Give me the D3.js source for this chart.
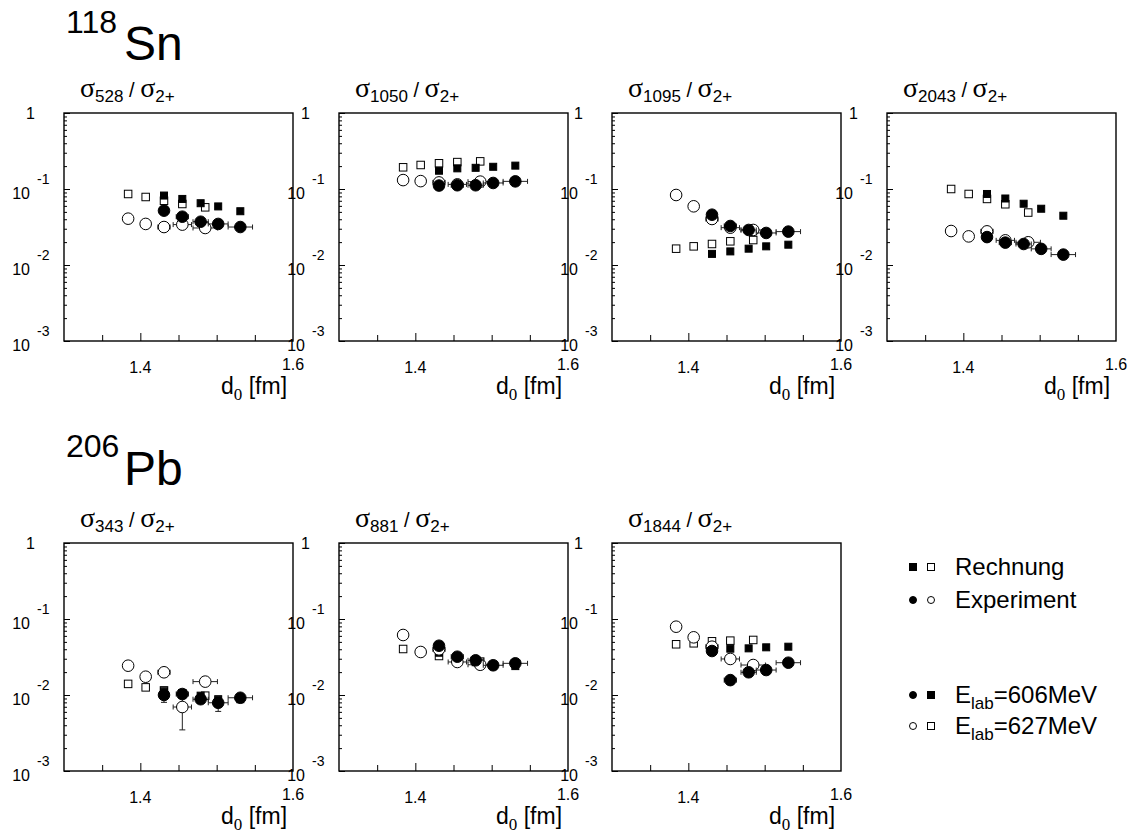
<!DOCTYPE html>
<html>
<head>
<meta charset="utf-8">
<script src="https://cdn.jsdelivr.net/npm/d3@7"></script>
<style>
  body { margin: 0; background: #fff; }
  text { font-family: "Liberation Sans", Arial, sans-serif; fill: #000; }
</style>
</head>
<body>
<div id="chart"></div>
<script>
// d0 positions of the two beam energies
const d606 = [1.431, 1.455, 1.479, 1.502, 1.531];
const d627 = [1.384, 1.407, 1.431, 1.455, 1.485];
// horizontal error on d0 for the experiment points
const dErr606 = [0.004, 0.008, 0.010, 0.013, 0.016];
const dErr627 = [0, 0, 0.008, 0.012, 0.016];

// panels: nucleus row, transition energy
const nuclei = [{mass: "118", sym: "Sn"}, {mass: "206", sym: "Pb"}];
const panelRow = [0, 0, 0, 0, 1, 1, 1];
const panelCol = [0, 1, 2, 3, 0, 1, 2];
const transitions = ["528", "1050", "1095", "2043", "343", "881", "1844"];

// Rechnung (calculation), 606 MeV (filled squares) and 627 MeV (open squares)
const calc606 = [
  [0.082, 0.074, 0.065, 0.059, 0.051],
  [0.174, 0.187, 0.190, 0.196, 0.203],
  [0.0140, 0.0151, 0.0164, 0.0176, 0.0185],
  [0.086, 0.075, 0.064, 0.055, 0.0445],
  [0.0112, 0.0106, 0.0098, 0.0088, 0.0088],
  [0.036, 0.030, 0.027, 0.025, 0.024],
  [0.0398, 0.0407, 0.0411, 0.0424, 0.0432]
];
const calc627 = [
  [0.086, 0.0785, 0.070, 0.0635, 0.0574],
  [0.193, 0.207, 0.218, 0.226, 0.231],
  [0.0164, 0.0176, 0.0189, 0.0205, 0.0213],
  [0.100, 0.086, 0.074, 0.063, 0.049],
  [0.0140, 0.0126, 0.0115, 0.0105, 0.0098],
  [0.0403, 0.0371, 0.0326, 0.0295, 0.0275],
  [0.0465, 0.0479, 0.0509, 0.0519, 0.0530]
];
// Experiment, 606 MeV (filled circles) and 627 MeV (open circles)
const exp606 = [
  [0.0519, 0.0432, 0.0371, 0.0347, 0.0316],
  [0.111, 0.112, 0.112, 0.120, 0.126],
  [0.0459, 0.0326, 0.0289, 0.0264, 0.0275],
  [0.0233, 0.0197, 0.0189, 0.0163, 0.0137],
  [0.0100, 0.0103, 0.0088, 0.0079, 0.0092],
  [0.0445, 0.0319, 0.0286, 0.0246, 0.0261],
  [0.0379, 0.0157, 0.0199, 0.0213, 0.0266]
];
const exp627 = [
  [0.0407, 0.0347, 0.0316, 0.0340, 0.0307],
  [0.131, 0.127, 0.122, 0.115, 0.125],
  [0.0834, 0.0592, 0.0403, 0.0310, 0.0289],
  [0.0280, 0.0238, 0.0277, 0.0211, 0.0199],
  [0.0243, 0.0174, 0.0199, 0.00695, 0.0150],
  [0.0616, 0.0368, 0.0399, 0.0272, 0.0250],
  [0.0792, 0.0574, 0.0432, 0.0298, 0.0248]
];
// relative vertical errors (only visible for 206Pb 343)
const yErr606 = [null, null, null, null, [0.2, 0.05, 0.12, 0.23, 0.06], null, null];
const yErr627 = [null, null, null, null, [0.1, 0.05, 0.05, 0.5, 0.1], null, null];

const yTickLabels = [1, 0.1, 0.01, 0.001];

// layout
const W = 1133, H = 835;
const lefts = [64, 339, 612, 887];
const tops = [113, 543];
const pw = 229, ph = 228;

const svg = d3.select("#chart")
  .append("svg")
  .attr("width", W)
  .attr("height", H);

// nucleus titles
const supBase = [33, 457], symBase = [60, 485];
nuclei.forEach(function(n, i) {
  svg.append("text").attr("x", 66).attr("y", supBase[i])
    .style("font-size", "32px").text(n.mass);
  svg.append("text").attr("x", 124).attr("y", symBase[i])
    .style("font-size", "48px").text(n.sym);
});

const x = d3.scaleLinear().domain([1.3, 1.6]).range([0, pw]);
const y = d3.scaleLog().domain([0.001, 1]).range([ph, 0]);

const minorY = [];
[0.001, 0.01, 0.1].forEach(function(dec) {
  for (let k = 2; k <= 9; k++) minorY.push(dec * k);
});

transitions.forEach(function(tr, p) {
  const g = svg.append("g")
    .attr("transform", `translate(${lefts[panelCol[p]]},${tops[panelRow[p]]})`);

  // subtitle sigma_E / sigma_2+
  const st = g.append("text").attr("x", 16).attr("y", -16);
  st.append("tspan").style("font-family", "'Liberation Serif', serif").style("font-size", "28px").text("σ");
  st.append("tspan").attr("dy", 5).style("font-size", "17px").text(tr);
  st.append("tspan").attr("dy", -5).style("font-size", "20px").text(" / ");
  st.append("tspan").style("font-family", "'Liberation Serif', serif").style("font-size", "28px").text("σ");
  st.append("tspan").attr("dy", 5).style("font-size", "17px").text("2+");

  // x ticks (inward)
  g.append("g")
    .attr("transform", `translate(0,${ph})`)
    .call(d3.axisBottom(x).tickValues([1.35, 1.45, 1.5, 1.55]).tickSize(-6).tickFormat(""))
    .call(a => a.select(".domain").remove());
  g.append("g")
    .attr("transform", `translate(0,${ph})`)
    .call(d3.axisBottom(x).tickValues([1.4]).tickSize(-8).tickFormat(""))
    .call(a => a.select(".domain").remove());

  // y ticks (inward)
  g.append("g")
    .call(d3.axisLeft(y).tickValues(minorY).tickSize(-3).tickFormat(""))
    .call(a => a.select(".domain").remove());
  g.append("g")
    .call(d3.axisLeft(y).tickValues(yTickLabels).tickSize(-6).tickFormat(""))
    .call(a => a.select(".domain").remove());
  g.selectAll(".tick line").attr("stroke", "#000").attr("stroke-width", 1);

  // frame
  g.append("rect").attr("width", pw).attr("height", ph)
    .attr("fill", "none").attr("stroke", "#000").attr("stroke-width", 1.4);

  // y labels
  yTickLabels.forEach(function(v) {
    const yy = y(v);
    if (v === 1) {
      g.append("text").attr("x", -29).attr("y", yy + 6)
        .attr("text-anchor", "end").style("font-size", "16px").text("1");
    } else {
      g.append("text").attr("x", -34).attr("y", yy + 10)
        .attr("text-anchor", "end").style("font-size", "16px").text("10");
      g.append("text").attr("x", -27).attr("y", yy - 5)
        .style("font-size", "14px").text(String(Math.round(Math.log10(v))));
    }
  });

  // x labels
  g.append("text").attr("x", x(1.4)).attr("y", ph + 32)
    .attr("text-anchor", "middle").style("font-size", "16px").text("1.4");
  g.append("text").attr("x", x(1.6)).attr("y", ph + 29)
    .attr("text-anchor", "middle").style("font-size", "16px").text("1.6");
  const xt = g.append("text").attr("x", 157).attr("y", ph + 53).style("font-size", "23px");
  xt.append("tspan").text("d");
  xt.append("tspan").attr("dy", 6).style("font-family", "'Liberation Serif', serif").style("font-size", "17px").text("0");
  xt.append("tspan").attr("dy", -6).text(" [fm]");

  // calculation squares
  const sq = function(data, ds, filled, s) {
    g.selectAll(null).data(data).join("rect")
      .attr("x", (v, i) => x(ds[i]) - s / 2)
      .attr("y", v => y(v) - s / 2)
      .attr("width", s).attr("height", s)
      .attr("fill", filled ? "#000" : "#fff")
      .attr("stroke", "#000").attr("stroke-width", 1);
  };
  sq(calc627[p], d627, false, 7.5);
  sq(calc606[p], d606, true, 7);

  // experiment error bars + circles
  const circ = function(data, ds, dErr, yErr, filled) {
    const eb = g.append("g").attr("stroke", "#222").attr("stroke-width", 1);
    data.forEach(function(v, i) {
      const cx = x(ds[i]), cy = y(v);
      if (dErr[i] > 0) {
        eb.append("line").attr("x1", x(ds[i] - dErr[i])).attr("x2", x(ds[i] + dErr[i]))
          .attr("y1", cy).attr("y2", cy);
        [ds[i] - dErr[i], ds[i] + dErr[i]].forEach(function(e) {
          eb.append("line").attr("x1", x(e)).attr("x2", x(e))
            .attr("y1", cy - 2.5).attr("y2", cy + 2.5);
        });
      }
      if (yErr && yErr[i] > 0) {
        const lo = y(v * (1 - yErr[i])), hi = y(v * (1 + yErr[i]));
        eb.append("line").attr("x1", cx).attr("x2", cx).attr("y1", lo).attr("y2", hi);
        [lo, hi].forEach(function(e) {
          eb.append("line").attr("x1", cx - 3).attr("x2", cx + 3).attr("y1", e).attr("y2", e);
        });
      }
    });
    g.selectAll(null).data(data).join("circle")
      .attr("cx", (v, i) => x(ds[i]))
      .attr("cy", v => y(v))
      .attr("r", 5.8)
      .attr("fill", filled ? "#000" : "#fff")
      .attr("stroke", "#000").attr("stroke-width", 1);
  };
  circ(exp627[p], d627, dErr627, yErr627[p], false);
  circ(exp606[p], d606, dErr606, yErr606[p], true);
});

// legend
const leg = svg.append("g");
const lx1 = 913, lx2 = 931, ltx = 955;
const legRows = [
  {y: 567, m1: "sq", f1: true, m2: "sq", f2: false, label: "Rechnung"},
  {y: 600, m1: "c", f1: true, m2: "c", f2: false, label: "Experiment"},
  {y: 695, m1: "c", f1: true, m2: "sq", f2: true, label: "606MeV"},
  {y: 726, m1: "c", f1: false, m2: "sq", f2: false, label: "627MeV"}
];
legRows.forEach(function(r, i) {
  [[lx1, r.m1, r.f1], [lx2, r.m2, r.f2]].forEach(function(m) {
    if (m[1] === "sq") {
      leg.append("rect").attr("x", m[0] - 3.5).attr("y", r.y - 3.5)
        .attr("width", 7).attr("height", 7)
        .attr("fill", m[2] ? "#000" : "#fff").attr("stroke", "#000").attr("stroke-width", 1);
    } else {
      leg.append("circle").attr("cx", m[0]).attr("cy", r.y).attr("r", 3.5)
        .attr("fill", m[2] ? "#000" : "#fff").attr("stroke", "#000").attr("stroke-width", 1);
    }
  });
  const t = leg.append("text").attr("x", ltx).attr("y", r.y + 8).style("font-size", "24px");
  if (i < 2) {
    t.text(r.label);
  } else {
    t.append("tspan").text("E");
    t.append("tspan").attr("dy", 6).style("font-size", "17px").text("lab");
    t.append("tspan").attr("dy", -6).text("=" + r.label);
  }
});
</script>
</body>
</html>
